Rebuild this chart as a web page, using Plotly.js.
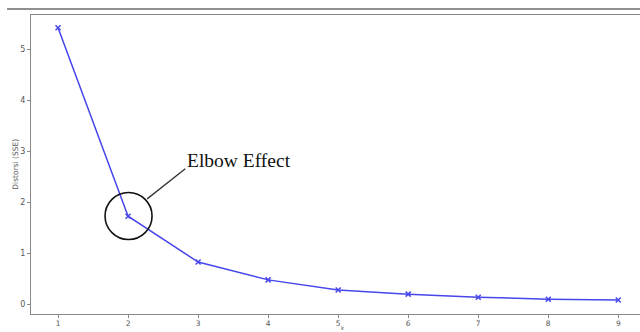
<!DOCTYPE html>
<html>
<head>
<meta charset="utf-8">
<script src="https://cdn.plot.ly/plotly-3.0.1.min.js"></script>
<style>html,body{margin:0;padding:0;background:#fff;}#chart{width:640px;height:332px;}</style>
</head>
<body>
<div id="chart"></div>
<script>
const kValues = [1, 2, 3, 4, 5, 6, 7, 8, 9];
const distortion = [5.43, 1.73, 0.83, 0.48, 0.28, 0.20, 0.14, 0.10, 0.085];
const xTickLabels = ['1', '2', '3', '4', '5', '6', '7', '8', '9'];
const yTickValues = [0, 1, 2, 3, 4, 5];

const trace = {
  x: kValues,
  y: distortion,
  type: 'scatter',
  mode: 'lines+markers',
  line: {color: 'rgb(70,70,235)', width: 1.5},
  marker: {symbol: 'x-thin-open', size: 5, color: 'rgb(70,70,235)', line: {color: 'rgb(70,70,235)', width: 1.5}},
  hoverinfo: 'skip'
};

const axisFont = {family: 'DejaVu Sans, sans-serif', size: 8, color: '#555'};

const layout = {
  width: 640,
  height: 332,
  margin: {l: 31, r: 0, t: 15, b: 18},
  paper_bgcolor: '#fff',
  plot_bgcolor: '#fff',
  showlegend: false,
  xaxis: {
    range: [0.614, 9.31],
    tickvals: kValues,
    ticktext: xTickLabels,
    showgrid: false,
    zeroline: false,
    showline: true,
    mirror: true,
    linecolor: '#888',
    linewidth: 1,
    ticks: 'outside',
    ticklen: 3,
    tickcolor: '#888',
    ticklabelstandoff: -1,
    tickfont: {family: 'DejaVu Sans, sans-serif', size: 7.5, color: '#555'},
    automargin: false
  },
  yaxis: {
    range: [-0.19, 5.68],
    tickvals: yTickValues,
    showgrid: false,
    zeroline: false,
    showline: true,
    linecolor: '#888',
    linewidth: 1,
    ticks: 'outside',
    ticklen: 3,
    tickcolor: '#888',
    tickfont: axisFont,
    automargin: false
  },
  shapes: [
    {type: 'line', xref: 'paper', yref: 'paper', ysizemode: 'pixel', yanchor: 1,
     x0: -0.0394, x1: 1, y0: 6, y1: 6, line: {color: '#222', width: 1.2}},
    {type: 'circle', xref: 'x', yref: 'y', xsizemode: 'pixel', ysizemode: 'pixel',
     xanchor: 2.007, yanchor: 1.735, x0: -23.5, x1: 23.5, y0: -23.5, y1: 23.5,
     line: {color: '#111', width: 1.6}},
    {type: 'line', xref: 'x', yref: 'y', x0: 2.273, y0: 2.07, x1: 2.817, y1: 2.66,
     line: {color: '#333', width: 1.3}}
  ],
  annotations: [
    {x: 2.82, y: 2.815, xref: 'x', yref: 'y', xanchor: 'left', yanchor: 'middle',
     text: 'Elbow Effect', showarrow: false,
     font: {family: 'Liberation Serif, Times New Roman, serif', size: 19.5, color: '#111'}},
    {x: -0.026, y: 0.5, xref: 'paper', yref: 'paper', textangle: -90,
     xanchor: 'center', yanchor: 'middle', text: 'Distorsi (SSE)', showarrow: false,
     font: {family: 'DejaVu Sans, sans-serif', size: 7.5, color: '#555'}},
    {x: (5 - 0.614) / (9.31 - 0.614), y: 0, xref: 'paper', yref: 'paper',
     xanchor: 'left', yanchor: 'bottom', xshift: 2, yshift: -18, borderpad: 0, text: 'k', showarrow: false,
     font: {family: 'DejaVu Sans, sans-serif', size: 5.5, color: '#555'}}
  ]
};

Plotly.newPlot('chart', [trace], layout, {displayModeBar: false, staticPlot: true});
</script>
</body>
</html>
